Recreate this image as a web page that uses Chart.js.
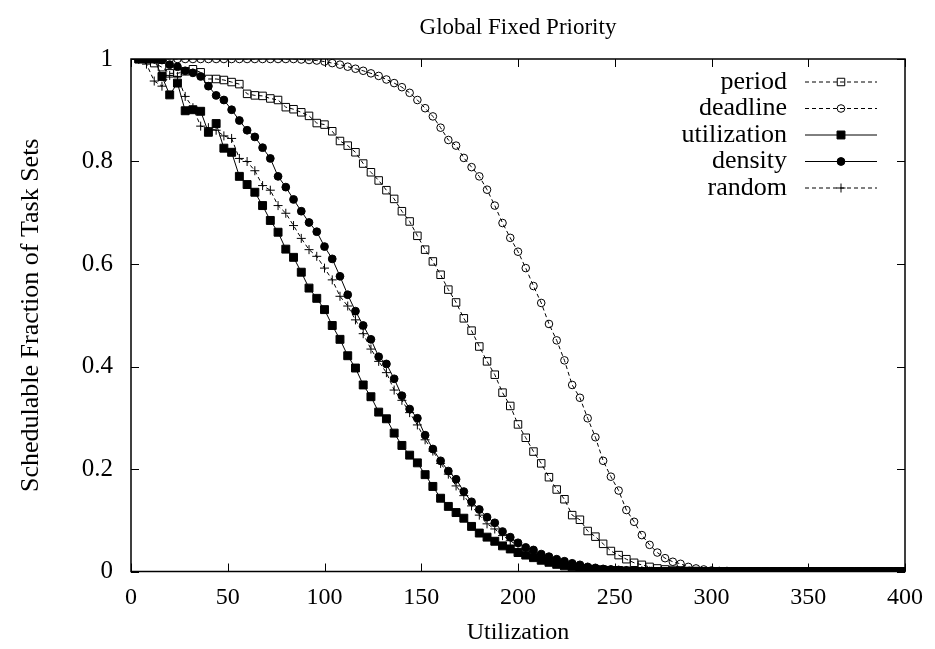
<!DOCTYPE html>
<html>
<head>
<meta charset="utf-8">
<title>Global Fixed Priority</title>
<script src="https://cdn.jsdelivr.net/npm/chart.js@4.4.0/dist/chart.umd.min.js"></script>
<style>
  html, body { margin: 0; padding: 0; background: #fff; }
</style>
</head>
<body>
<canvas id="chart" width="935" height="649"></canvas>
<script>
// utilization values on the x axis
const utilization = [
    4, 8, 12, 16, 20, 24, 28, 32, 36, 40, 44, 48, 52, 56, 60, 64, 68, 72, 76, 80,
    84, 88, 92, 96, 100, 104, 108, 112, 116, 120, 124, 128, 132, 136, 140, 144, 148, 152, 156, 160,
    164, 168, 172, 176, 180, 184, 188, 192, 196, 200, 204, 208, 212, 216, 220, 224, 228, 232, 236, 240,
    244, 248, 252, 256, 260, 264, 268, 272, 276, 280, 284, 288, 292, 296, 300, 304, 308, 312, 316, 320,
    324, 328, 332, 336, 340, 344, 348, 352, 356, 360, 364, 368, 372, 376, 380, 384, 388, 392, 396, 400
];

// schedulable fraction, one array per priority assignment
const periodVals = [
    1.0, 1.0, 0.992, 0.984, 0.972, 0.972, 0.976, 0.980, 0.974, 0.961, 0.961, 0.959, 0.955, 0.951, 0.932, 0.929, 0.928, 0.923, 0.920, 0.906,
    0.902, 0.896, 0.889, 0.875, 0.872, 0.859, 0.840, 0.831, 0.818, 0.796, 0.779, 0.763, 0.744, 0.727, 0.703, 0.683, 0.655, 0.628, 0.605, 0.579,
    0.550, 0.525, 0.494, 0.470, 0.439, 0.410, 0.384, 0.349, 0.323, 0.287, 0.261, 0.234, 0.211, 0.184, 0.160, 0.141, 0.110, 0.101, 0.079, 0.068,
    0.054, 0.040, 0.032, 0.024, 0.017, 0.013, 0.009, 0.006, 0.004, 0.003, 0.002, 0.001, 0.001, 0, 0, 0, 0, 0, 0, 0,
    0, 0, 0, 0, 0, 0, 0, 0, 0, 0, 0, 0, 0, 0, 0, 0, 0, 0, 0, 0
];
const deadlineVals = [
    1.0, 1.0, 1.0, 1.0, 1.0, 1.0, 1.0, 1.0, 1.0, 1.0, 1.0, 1.0, 1.0, 1.0, 1.0, 1.0, 1.0, 1.0, 1.0, 1.0,
    1.0, 0.999, 0.998, 0.997, 0.995, 0.992, 0.989, 0.985, 0.981, 0.977, 0.972, 0.967, 0.960, 0.953, 0.945, 0.934, 0.920, 0.904, 0.888, 0.866,
    0.842, 0.831, 0.807, 0.789, 0.771, 0.745, 0.714, 0.680, 0.651, 0.624, 0.592, 0.557, 0.524, 0.483, 0.451, 0.412, 0.364, 0.339, 0.299, 0.262,
    0.216, 0.185, 0.158, 0.120, 0.097, 0.071, 0.052, 0.037, 0.026, 0.019, 0.015, 0.009, 0.006, 0.004, 0.002, 0.001, 0.001, 0, 0, 0,
    0, 0, 0, 0, 0, 0, 0, 0, 0, 0, 0, 0, 0, 0, 0, 0, 0, 0, 0, 0
];
const utilizationVals = [
    1.0, 1.0, 1.0, 0.966, 0.930, 0.953, 0.899, 0.901, 0.898, 0.857, 0.874, 0.826, 0.818, 0.771, 0.755, 0.740, 0.714, 0.685, 0.662, 0.629,
    0.613, 0.584, 0.553, 0.533, 0.511, 0.480, 0.453, 0.421, 0.397, 0.364, 0.341, 0.311, 0.298, 0.270, 0.246, 0.227, 0.212, 0.189, 0.166, 0.143,
    0.127, 0.115, 0.104, 0.088, 0.075, 0.067, 0.059, 0.050, 0.044, 0.037, 0.032, 0.027, 0.022, 0.018, 0.014, 0.011, 0.009, 0.007, 0.005, 0.004,
    0.003, 0.002, 0.002, 0.001, 0.001, 0, 0, 0, 0, 0, 0, 0, 0, 0, 0, 0, 0, 0, 0, 0,
    0, 0, 0, 0, 0, 0, 0, 0, 0, 0, 0, 0, 0, 0, 0, 0, 0, 0, 0, 0
];
const densityVals = [
    1.0, 1.0, 1.0, 0.998, 0.989, 0.985, 0.977, 0.973, 0.966, 0.947, 0.929, 0.920, 0.901, 0.880, 0.861, 0.848, 0.827, 0.806, 0.771, 0.750,
    0.726, 0.703, 0.681, 0.663, 0.634, 0.610, 0.576, 0.540, 0.508, 0.480, 0.453, 0.419, 0.405, 0.376, 0.343, 0.317, 0.299, 0.266, 0.239, 0.216,
    0.196, 0.180, 0.156, 0.136, 0.121, 0.106, 0.095, 0.078, 0.067, 0.056, 0.047, 0.042, 0.034, 0.029, 0.024, 0.020, 0.016, 0.013, 0.009, 0.007,
    0.005, 0.004, 0.003, 0.002, 0.002, 0.001, 0.001, 0, 0, 0, 0, 0, 0, 0, 0, 0, 0, 0, 0, 0,
    0, 0, 0, 0, 0, 0, 0, 0, 0, 0, 0, 0, 0, 0, 0, 0, 0, 0, 0, 0
];
const randomVals = [
    1.0, 0.990, 0.957, 0.947, 0.968, 0.966, 0.927, 0.905, 0.869, 0.866, 0.861, 0.850, 0.845, 0.806, 0.800, 0.782, 0.753, 0.744, 0.714, 0.699,
    0.675, 0.650, 0.628, 0.615, 0.592, 0.569, 0.537, 0.518, 0.491, 0.464, 0.434, 0.410, 0.388, 0.354, 0.334, 0.310, 0.286, 0.257, 0.235, 0.211,
    0.190, 0.167, 0.148, 0.128, 0.110, 0.093, 0.083, 0.070, 0.060, 0.050, 0.042, 0.036, 0.030, 0.025, 0.020, 0.016, 0.013, 0.010, 0.008, 0.006,
    0.004, 0.003, 0.002, 0.002, 0.001, 0.001, 0, 0, 0, 0, 0, 0, 0, 0, 0, 0, 0, 0, 0, 0,
    0, 0, 0, 0, 0, 0, 0, 0, 0, 0, 0, 0, 0, 0, 0, 0, 0, 0, 0, 0
];

const xTicks = [0, 50, 100, 150, 200, 250, 300, 350, 400];
const yTicks = [0, 0.2, 0.4, 0.6, 0.8, 1];

const FONT = "'Liberation Serif', 'Times New Roman', serif";

function toPoints(vals) {
    return utilization.map((x, i) => ({ x: x, y: vals[i] }));
}

function makeSet(label, vals, style, radius, filled, dashed, order) {
    return {
        label: label,
        data: toPoints(vals),
        borderColor: '#000',
        borderWidth: 1,
        borderDash: dashed ? [4, 3] : [],
        pointStyle: style,
        pointRadius: radius,
        pointBorderWidth: 1,
        pointBorderColor: '#000',
        pointBackgroundColor: filled ? '#000' : 'rgba(0,0,0,0)',
        tension: 0,
        order: order
    };
}

// gnuplot-like frame, inward ticks, title, axis titles and key
const framePlugin = {
    id: 'frame',
    afterDraw(chart) {
        const ctx = chart.ctx;
        const a = chart.chartArea;
        const xs = chart.scales.x;
        const ys = chart.scales.y;
        ctx.save();
        ctx.strokeStyle = '#000';
        ctx.lineWidth = 1.5;
        ctx.setLineDash([]);
        ctx.strokeRect(a.left, a.top, a.right - a.left, a.bottom - a.top);

        ctx.lineWidth = 1;
        ctx.beginPath();
        xTicks.forEach(v => {
            const px = Math.round(xs.getPixelForValue(v)) + 0.5;
            ctx.moveTo(px, a.bottom); ctx.lineTo(px, a.bottom - 8);
            ctx.moveTo(px, a.top); ctx.lineTo(px, a.top + 8);
        });
        yTicks.forEach(v => {
            const py = Math.round(ys.getPixelForValue(v)) + 0.5;
            ctx.moveTo(a.left, py); ctx.lineTo(a.left + 8, py);
            ctx.moveTo(a.right, py); ctx.lineTo(a.right - 8, py);
        });
        ctx.stroke();

        ctx.fillStyle = '#000';
        ctx.textAlign = 'center';
        ctx.textBaseline = 'middle';
        const midX = (a.left + a.right) / 2;
        ctx.font = '23px ' + FONT;
        ctx.fillText('Global Fixed Priority', midX, 28);
        ctx.font = '24px ' + FONT;
        ctx.fillText('Utilization', midX, 633);

        ctx.save();
        ctx.font = '26px ' + FONT;
        ctx.translate(31, (a.top + a.bottom) / 2);
        ctx.rotate(-Math.PI / 2);
        ctx.fillText('Schedulable Fraction of Task Sets', 0, 0);
        ctx.restore();

        // key
        ctx.font = '26px ' + FONT;
        const rowY = [82, 108.5, 135, 161.5, 188];
        chart.data.datasets.forEach((ds, i) => {
            const y = rowY[i];
            ctx.fillStyle = '#000';
            ctx.textAlign = 'right';
            ctx.fillText(ds.label, 787, y);
            ctx.strokeStyle = '#000';
            ctx.lineWidth = 1;
            ctx.setLineDash(ds.borderDash);
            ctx.beginPath();
            ctx.moveTo(805, y); ctx.lineTo(877, y);
            ctx.stroke();
            ctx.setLineDash([]);
            ctx.fillStyle = ds.pointBackgroundColor;
            Chart.helpers.drawPoint(ctx, {
                pointStyle: ds.pointStyle,
                radius: ds.pointRadius,
                rotation: 0,
                borderWidth: 1
            }, 841, y);
        });
        ctx.restore();
    }
};

const ctx = document.getElementById('chart').getContext('2d');
const chart = new Chart(ctx, {
    type: 'line',
    data: {
        datasets: [
            makeSet('period', periodVals, 'rect', 5.3, false, true, 5),
            makeSet('deadline', deadlineVals, 'circle', 3.8, false, true, 4),
            makeSet('utilization', utilizationVals, 'rect', 5.6, true, false, 3),
            makeSet('density', densityVals, 'circle', 3.9, true, false, 2),
            makeSet('random', randomVals, 'cross', 4.5, false, true, 1)
        ]
    },
    options: {
        responsive: false,
        animation: false,
        layout: { padding: { top: 59, right: 26, left: 0, bottom: 0 } },
        plugins: {
            legend: { display: false },
            tooltip: { enabled: false },
            title: { display: false }
        },
        scales: {
            x: {
                type: 'linear',
                min: 0,
                max: 400,
                afterBuildTicks: scale => { scale.ticks = xTicks.map(v => ({ value: v })); },
                afterFit: scale => { scale.height = 77.5; },
                grid: { display: false, drawTicks: false },
                border: { display: false },
                ticks: { color: '#000', font: { family: FONT, size: 24 }, padding: 12, maxRotation: 0 }
            },
            y: {
                type: 'linear',
                min: 0,
                max: 1,
                afterBuildTicks: scale => { scale.ticks = yTicks.map(v => ({ value: v })); },
                afterFit: scale => { scale.width = 131; },
                grid: { display: false, drawTicks: false },
                border: { display: false },
                ticks: {
                    color: '#000',
                    font: { family: FONT, size: 25 },
                    padding: 18,
                    callback: v => String(Math.round(v * 10) / 10)
                }
            }
        }
    },
    plugins: [framePlugin]
});
</script>
</body>
</html>
